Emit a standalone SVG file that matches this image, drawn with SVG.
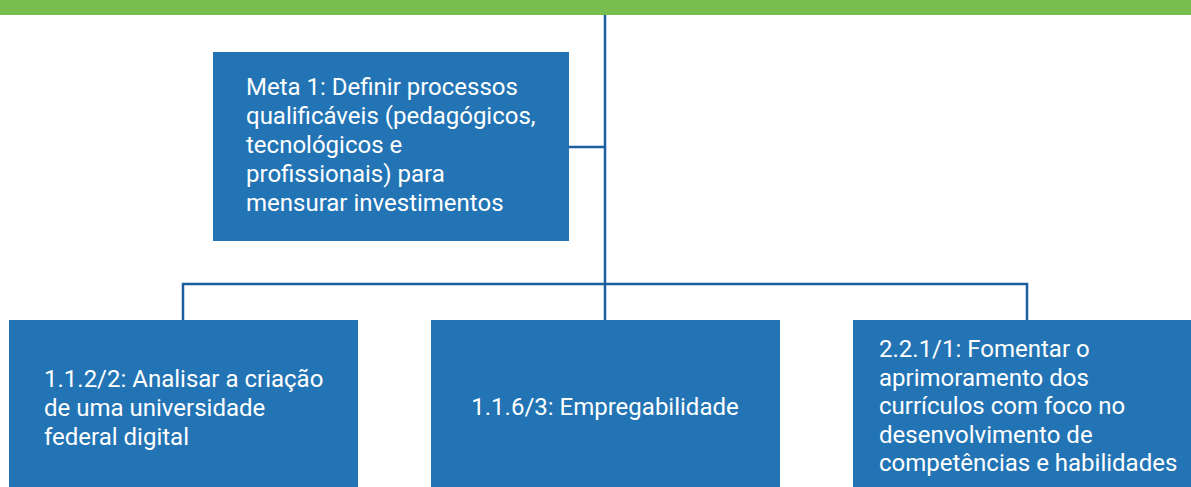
<svg xmlns="http://www.w3.org/2000/svg" width="1191" height="487" viewBox="0 0 1191 487">
<style>
.box{fill:#2274B5}
.t{font-family:Roboto,"Liberation Sans",sans-serif;font-size:24px;fill:#ffffff}
.c{fill:none;stroke:#1B5E9F;stroke-width:2.5}
</style>
<rect x="0" y="0" width="1191" height="15" fill="#77BE4F"/>
<g id="connectors">
<path class="c" d="M605 15 V284"/>
<path class="c" d="M569 147 H605"/>
<path class="c" d="M183 320 V284 H1027 V320"/>
<path class="c" d="M605 284 V320"/>
</g>
<g id="meta1">
<rect class="box" x="213" y="52" width="356" height="189"/>
<text class="t" x="246" y="95">Meta 1: Definir processos<tspan x="246" dy="29">qualificáveis (pedagógicos,</tspan><tspan x="246" dy="29">tecnológicos e</tspan><tspan x="246" dy="29">profissionais) para</tspan><tspan x="246" dy="29">mensurar investimentos</tspan></text>
</g>
<g id="n112">
<rect class="box" x="9" y="320" width="349" height="167"/>
<text class="t" x="44" y="387">1.1.2/2: Analisar a criação<tspan x="44" dy="29">de uma universidade</tspan><tspan x="44" dy="29">federal digital</tspan></text>
</g>
<g id="n116">
<rect class="box" x="431" y="320" width="349" height="167"/>
<text class="t" x="605" y="415" text-anchor="middle">1.1.6/3: Empregabilidade</text>
</g>
<g id="n221">
<rect class="box" x="853" y="320" width="349" height="167"/>
<text class="t" x="879" y="357">2.2.1/1: Fomentar o<tspan x="879" dy="28.6">aprimoramento dos</tspan><tspan x="879" dy="28.6">currículos com foco no</tspan><tspan x="879" dy="28.6">desenvolvimento de</tspan><tspan x="879" dy="28.6">competências e habilidades</tspan></text>
</g>
</svg>
